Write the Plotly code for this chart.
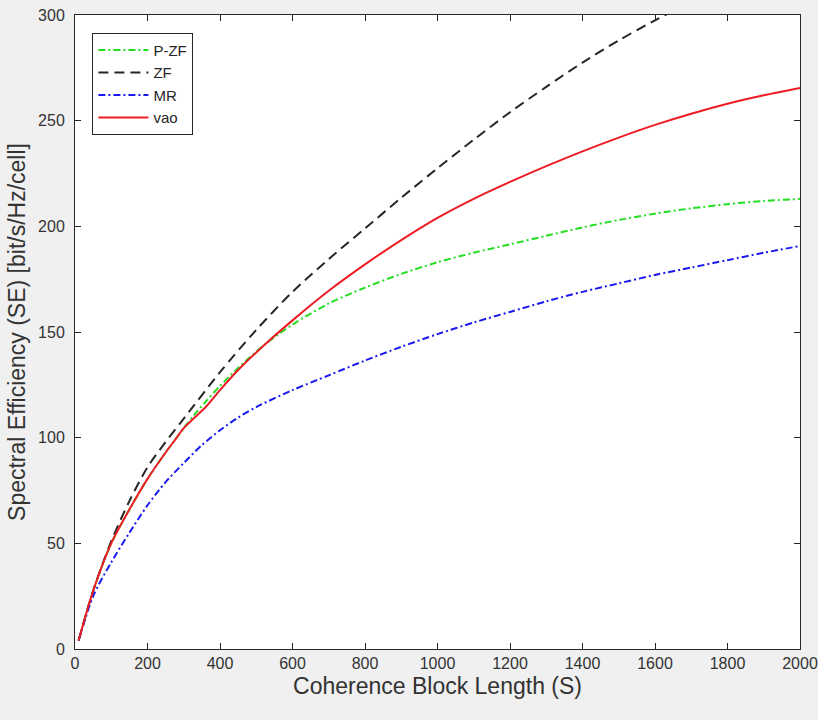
import plotly.graph_objects as go

# Coherence block length S and spectral efficiency values
S_pzf = [10, 50, 100, 150, 200, 250, 276, 300, 330, 363, 400, 450, 520, 600, 700, 800, 900,
         1000, 1100, 1200, 1300, 1400, 1500, 1600, 1700, 1800, 1900, 2000]
SE_pzf = [4, 27.5, 50, 66, 80.5, 93, 99, 104.5, 111, 117.5, 124.5, 133, 143.6, 153.5, 163.5, 171, 177.5,
          183, 187.5, 191.5, 195.5, 199.5, 203, 206, 208.5, 210.5, 212, 213]

S_zf = [10, 50, 100, 150, 200, 250, 300, 400, 500, 600, 700, 800, 900, 1000, 1100, 1200, 1300, 1400,
        1500, 1600, 1640]
SE_zf = [4, 27.5, 51, 70, 86, 98, 109, 131, 151, 169, 184.5, 199, 213.5, 227.5, 241, 254, 266, 277.5,
         288, 297.5, 301]

S_mr = [10, 50, 100, 150, 200, 250, 300, 350, 400, 450, 500, 600, 700, 800, 900, 1000,
        1100, 1200, 1300, 1400, 1500, 1600, 1700, 1800, 1900, 2000]
SE_mr = [4, 25, 41, 55, 68, 79, 88, 96.5, 103.5, 109.5, 114.5, 122.5, 129.5, 136.5, 143, 149,
         154.5, 159.5, 164.5, 169, 173, 177, 180.5, 184, 187.5, 190.7]

S_vao = [10, 50, 100, 150, 200, 250, 276, 300, 330, 363, 400, 450, 520, 600, 700, 800, 900, 1000, 1100,
         1200, 1300, 1400, 1500, 1600, 1700, 1800, 1900, 2000]
SE_vao = [4, 27.5, 50, 66, 80.5, 93, 99, 104.5, 109.5, 115, 122.5, 132, 143.5, 155.5, 169.5, 182, 193.5, 204, 213,
          221, 228.5, 235.5, 242, 248, 253.3, 258, 262, 265.5]

series = [
    ("P-ZF", S_pzf, SE_pzf, "#22dd22", "7px,3px,2px,3px"),
    ("ZF", S_zf, SE_zf, "#262626", "10px,6px"),
    ("MR", S_mr, SE_mr, "#1a1aee", "7px,3px,2px,3px"),
    ("vao", S_vao, SE_vao, "#ee1c25", "solid"),
]

fig = go.Figure()
for name, xs, ys, col, dash in series:
    fig.add_trace(go.Scatter(
        x=xs, y=ys, name=name, mode="lines",
        line=dict(color=col, width=2, dash=dash, shape="spline", smoothing=0.8),
    ))

FONT = "Liberation Sans, Arial, sans-serif"
axis_common = dict(
    showgrid=False, zeroline=False, showline=True, linecolor="#262626", linewidth=1,
    mirror="ticks", ticks="inside", ticklen=6, tickcolor="#262626",
    tickfont=dict(family=FONT, size=16, color="#333333"),
)

fig.update_xaxes(range=[0, 2000], dtick=200, tick0=0,
                 title=dict(text="Coherence Block Length (S)", standoff=6,
                            font=dict(family=FONT, size=23, color="#333333")),
                 **axis_common)
fig.update_yaxes(range=[0, 300], dtick=50, tick0=0, ticklabelstandoff=6,
                 title=dict(text="Spectral Efficiency (SE) [bit/s/Hz/cell]", standoff=6,
                            font=dict(family=FONT, size=23, color="#333333")),
                 **axis_common)

fig.update_layout(
    width=818, height=720,
    margin=dict(l=75, r=18, t=15, b=71, autoexpand=False),
    paper_bgcolor="#f0f0f0", plot_bgcolor="#ffffff",
    showlegend=True,
    legend=dict(
        x=0.024, y=0.972, xanchor="left", yanchor="top",
        bgcolor="#ffffff", bordercolor="#262626", borderwidth=1,
        font=dict(family=FONT, size=15, color="#262626"),
        tracegroupgap=0, itemwidth=50,
    ),
)

fig.write_html("out.html")
